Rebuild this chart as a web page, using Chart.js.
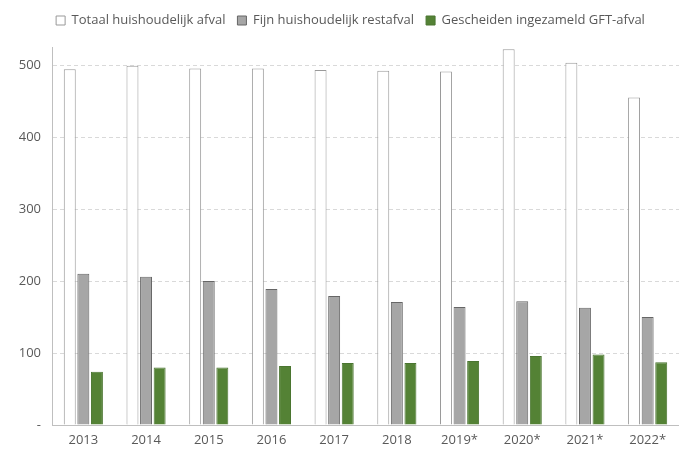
<!DOCTYPE html>
<html lang="nl">
<head>
  <meta charset="UTF-8">
  <title>Huishoudelijk afval per inwoner</title>
  <script src="https://cdn.jsdelivr.net/npm/chart.js"></script>
  <style>
    body {
      margin: 0;
      background-color: #ffffff;
    }
    .chartContainer {
      width: 679px;
      height: 451px;
    }
  </style>
</head>
<body>
  <div class="chartContainer">
    <canvas id="afvalChart"></canvas>
  </div>

  <script>
    // Data (kg per inwoner)
    const years = ['2013', '2014', '2015', '2016', '2017', '2018', '2019*', '2020*', '2021*', '2022*'];
    const totaal = [494, 499, 495, 495, 493, 492, 491, 522, 503, 455];
    const restafval = [210, 206, 200, 189, 179, 171, 164, 172, 163, 150];
    const gft = [74, 80, 80, 82, 86, 86, 89, 96, 98, 87];
    const yTicks = [0, 100, 200, 300, 400, 500];

    const textColor = '#595959';
    Chart.defaults.font.family = '"Open Sans", sans-serif';
    Chart.defaults.font.size = 13;
    Chart.defaults.color = textColor;

    // extra space under the legend, and nudge it a little to the right
    const legendTweak = {
      id: 'legendTweak',
      afterInit(chart) {
        const fit = chart.legend.fit;
        chart.legend.fit = function () {
          fit.bind(chart.legend)();
          this.height += 10;
        };
      },
      afterLayout(chart) {
        chart.legend.left += 11;
        chart.legend.right += 11;
      }
    };

    const ctx = document.getElementById('afvalChart').getContext('2d');
    const afvalChart = new Chart(ctx, {
      type: 'bar',
      data: {
        labels: years,
        datasets: [
          {
            label: 'Totaal huishoudelijk afval',
            data: totaal,
            backgroundColor: '#ffffff',
            borderColor: '#999999',
            borderWidth: 1
          },
          {
            label: 'Fijn huishoudelijk restafval',
            data: restafval,
            backgroundColor: '#a6a6a6',
            borderColor: '#666666',
            borderWidth: 1
          },
          {
            label: 'Gescheiden ingezameld GFT-afval',
            data: gft,
            backgroundColor: '#548235',
            borderColor: '#4a7530',
            borderWidth: 1
          }
        ]
      },
      options: {
        responsive: true,
        maintainAspectRatio: false,
        animation: false,
        categoryPercentage: 0.65,
        barPercentage: 0.88,
        layout: {
          padding: { left: 0, right: 0, top: 2, bottom: 0 }
        },
        plugins: {
          tooltip: { enabled: false },
          legend: {
            position: 'top',
            labels: {
              boxWidth: 9,
              boxHeight: 9,
              padding: 12,
              color: textColor
            }
          }
        },
        scales: {
          x: {
            afterFit: scale => {
              scale.height = 26;
            },
            grid: { display: false, drawTicks: false },
            border: { color: '#bfbfbf' },
            ticks: { padding: 7, color: textColor }
          },
          y: {
            min: 0,
            max: 525,
            afterBuildTicks: scale => {
              scale.ticks = yTicks.map(v => ({ value: v }));
            },
            afterFit: scale => {
              scale.width = 52;
            },
            grid: {
              color: '#d9d9d9',
              drawTicks: false
            },
            border: { color: '#bfbfbf', dash: [4, 3] },
            ticks: {
              padding: 11,
              color: textColor,
              callback: v => (v === 0 ? '-' : v)
            }
          }
        }
      },
      plugins: [legendTweak]
    });
  </script>
</body>
</html>
